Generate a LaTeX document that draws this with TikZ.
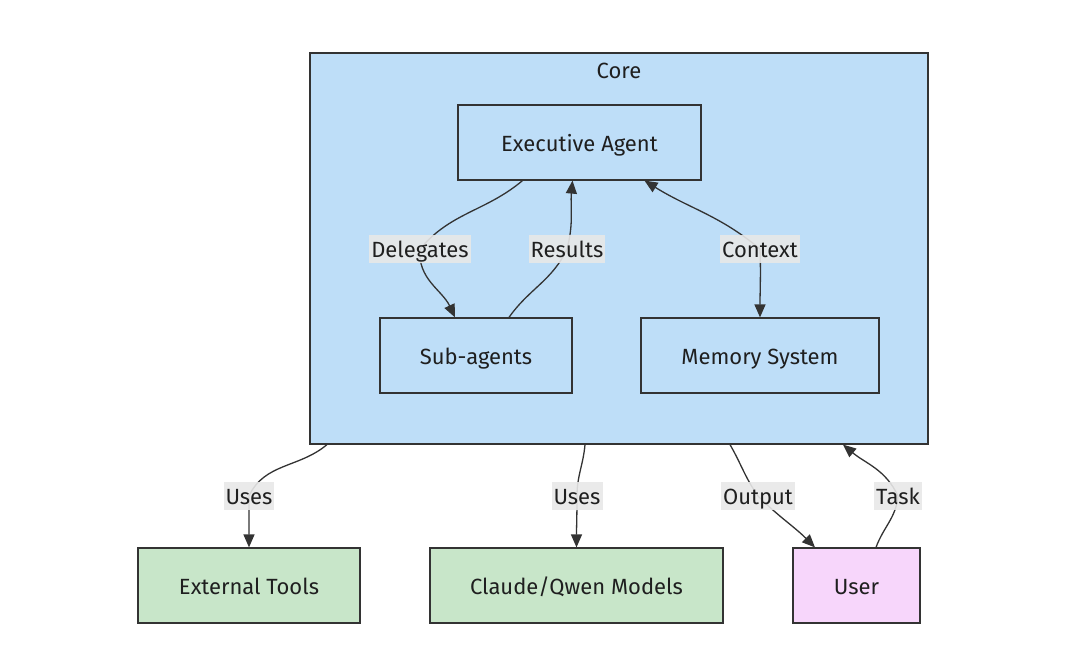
\documentclass[tikz,border=0pt]{standalone}
\usepackage{fontspec}
\setmainfont{Fira Sans}
\usetikzlibrary{arrows.meta,positioning}
\definecolor{corefill}{HTML}{BEDEF8}
\definecolor{greenfill}{HTML}{C8E6C9}
\definecolor{pinkfill}{HTML}{F7D6FB}
\definecolor{strk}{HTML}{333333}
\definecolor{lblbg}{HTML}{E8E8E8}
\definecolor{txt}{HTML}{1F1F1F}
\pgfdeclarelayer{corelayer}
\pgfdeclarelayer{edgelayer}
\pgfsetlayers{corelayer,edgelayer,main}
\tikzset{
  txtfont/.style={font=\fontsize{22}{26}\selectfont, text=txt, text height=20pt, text depth=3pt},
  box/.style={draw=strk, line width=1.2pt, inner sep=0pt, txtfont},
  agentbox/.style={box, fill=corefill},
  toolbox/.style={box, fill=greenfill},
  userbox/.style={box, fill=pinkfill},
  elabel/.style={fill=lblbg, fill opacity=0.9, text opacity=1, inner xsep=2pt, inner ysep=5pt, txtfont, text height=17pt, text depth=1pt},
  conn/.style={draw=strk, line width=1.3pt},
  tip/.style={-{Triangle[length=13pt,width=11pt]}},
  bitip/.style={{Triangle[length=13pt,width=11pt]}-{Triangle[length=13pt,width=11pt]}},
}
\begin{document}
\begin{tikzpicture}[x=1pt,y=-1pt]
\useasboundingbox (0,0) rectangle (1080,664);
\begin{pgfonlayer}{corelayer}
\node[box, fill=corefill, minimum width=618pt, minimum height=391pt] (core) at (619,248.5) {};
\end{pgfonlayer}
\node[txtfont] (corelbl) at (619,70) {Core};
\node[agentbox, minimum width=243pt, minimum height=75pt] (exec) at (579.5,142.5) {Executive Agent};
\node[agentbox, minimum width=192pt, minimum height=75pt] (sub) at (476,355.5) {Sub-agents};
\node[agentbox, minimum width=238pt, minimum height=75pt] (mem) at (760,355.5) {Memory System};
\node[toolbox, minimum width=222pt, minimum height=75pt] (ext) at (249,585.5) {External Tools};
\node[toolbox, minimum width=293pt, minimum height=75pt] (llm) at (576.5,585.5) {Claude/Qwen Models};
\node[userbox, minimum width=127pt, minimum height=75pt] (user) at (856.5,585.5) {User};

\node[elabel] (dlg) at (420,249) {Delegates};
\node[elabel] (res) at (567,249) {Results};
\node[elabel] (ctx) at (760,249) {Context};
\node[elabel] (uses1) at (249,496) {Uses};
\node[elabel] (uses2) at (577,496) {Uses};
\node[elabel] (out) at (758,496) {Output};
\node[elabel] (task) at (898,496) {Task};

\begin{pgfonlayer}{edgelayer}
\draw[conn, tip] ([xshift=-57pt]exec.south) to[out=-140,in=50] (dlg.center) to[out=-95,in=115] ([xshift=-21pt]sub.north);
\draw[conn, tip] ([xshift=33pt]sub.north) to[out=55,in=-115] (res.center) to[out=75,in=-95] ([xshift=-7pt]exec.south);
\draw[conn, bitip] ([xshift=65pt]exec.south) to[out=-32,in=140] (ctx.center) to[out=-88,in=90] (mem.north);
\draw[conn, tip] ([xshift=-292pt]core.south) to[out=-140,in=65] (uses1.center) to[out=-90,in=90] (ext.north);
\draw[conn, tip] ([xshift=-34pt]core.south) to[out=-95,in=90] (uses2.center) to[out=-90,in=90] (llm.north);
\draw[conn, tip] ([xshift=111pt]core.south) to[out=-60,in=125] (out.center) to[out=-45,in=135] ([xshift=-41.5pt]user.north);
\draw[conn, tip] ([xshift=19.5pt]user.north) to[out=70,in=-95] (task.center) to[out=115,in=-40] ([xshift=224pt]core.south);
\end{pgfonlayer}
\end{tikzpicture}
\end{document}
